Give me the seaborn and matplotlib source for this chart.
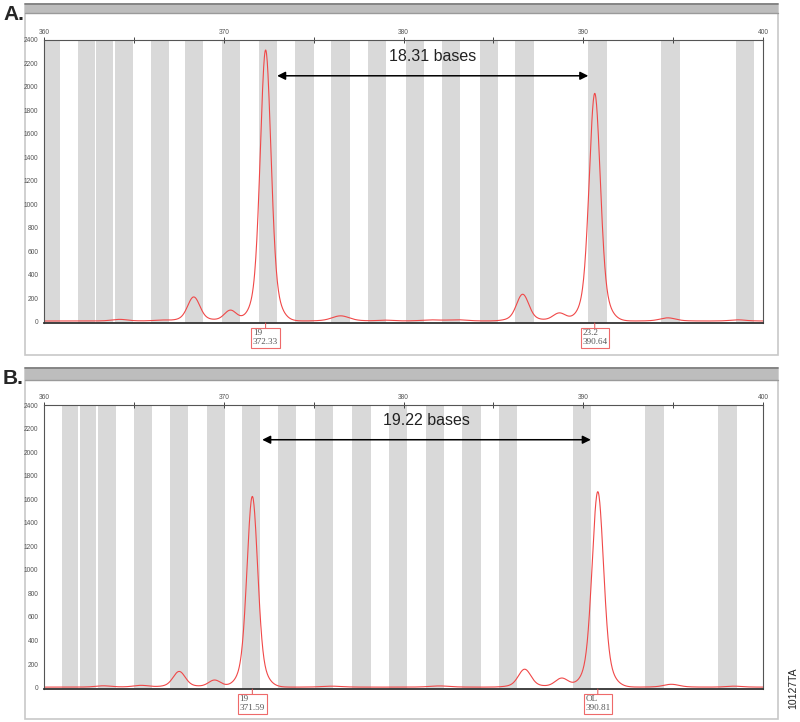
import numpy as np
import pandas as pd
import matplotlib
matplotlib.use("Agg")
import matplotlib.pyplot as plt
from matplotlib.patches import Rectangle
from matplotlib.lines import Line2D
import seaborn as sns

# ---------------- data ----------------
x_range = (360, 400)
y_range = (0, 2400)
x_major_ticks = [360, 370, 380, 390, 400]

# panel A bins (start, end in bases)
bins_a_start = [360.04, 361.87, 362.90, 363.93, 365.93, 367.87, 369.93, 371.97, 373.94,
                375.98, 378.02, 380.12, 382.13, 384.26, 386.22, 390.28, 394.35, 398.48]
bins_a_end = [360.87, 362.82, 363.86, 364.94, 366.97, 368.87, 370.93, 372.98, 375.00,
              377.02, 379.04, 381.12, 383.13, 385.24, 387.24, 391.30, 395.37, 399.48]
# panel B bins
bins_b_start = [360.98, 362.00, 362.99, 364.99, 367.03, 369.07, 371.02, 373.04, 375.10,
                377.16, 379.20, 381.24, 383.27, 385.29, 389.41, 393.44, 397.50]
bins_b_end = [361.90, 362.90, 363.99, 366.01, 368.03, 370.07, 372.02, 374.04, 376.10,
              378.20, 380.20, 382.27, 384.33, 386.29, 390.41, 394.47, 398.53]

# peak tables: position (bases), height (RFU), width (sigma, bases)
peaks_a_pos = [364.2, 366.5, 368.33, 370.37, 372.33, 376.5, 379.0, 381.5, 383.0,
               386.63, 388.67, 390.64, 394.7, 398.6]
peaks_a_height = [14, 8, 205, 92, 2310, 44, 7, 9, 10, 228, 68, 1940, 27, 10]
peaks_a_width = [0.4, 0.4, 0.32, 0.32, 0.28, 0.45, 0.4, 0.5, 0.5, 0.32, 0.34, 0.29, 0.4, 0.4]

peaks_b_pos = [363.3, 365.4, 367.52, 369.49, 371.59, 376.0, 382.0, 386.74, 388.8,
               390.81, 394.9, 398.4]
peaks_b_height = [11, 15, 133, 60, 1620, 8, 10, 152, 76, 1660, 24, 8]
peaks_b_width = [0.4, 0.4, 0.32, 0.32, 0.28, 0.5, 0.5, 0.33, 0.34, 0.30, 0.4, 0.4]

baseline_a = 5
baseline_b = 4

# allele call labels
calls_a_allele = ["19", "23.2"]
calls_a_size = ["372.33", "390.64"]
calls_b_allele = ["19", "OL"]
calls_b_size = ["371.59", "390.81"]

# distance arrows
arrow_a = (372.97, 390.28, 2095)
arrow_b = (372.14, 390.42, 2105)
label_a = "18.31 bases"
label_b = "19.22 bases"


def trace(pos, hgt, wid, base, grid):
    y = np.full_like(grid, float(base))
    for p, h, w in zip(pos, hgt, wid):
        y += h * (0.82 * np.exp(-0.5 * ((grid - p) / w) ** 2)
                  + 0.18 * np.exp(-0.5 * ((grid - p) / (2.0 * w)) ** 2))
    return y


grid = np.linspace(x_range[0], x_range[1], 2001)
df_a = pd.DataFrame({"size": grid,
                     "rfu": trace(peaks_a_pos, peaks_a_height, peaks_a_width, baseline_a, grid)})
df_b = pd.DataFrame({"size": grid,
                     "rfu": trace(peaks_b_pos, peaks_b_height, peaks_b_width, baseline_b, grid)})

# ---------------- figure ----------------
sns.set_style("white")
plt.rcParams["font.family"] = ["Liberation Sans", "DejaVu Sans"]

W, H = 800, 722
fig = plt.figure(figsize=(W / 100, H / 100), dpi=100)


def fx(x):
    return x / W


def fy(y):
    return 1 - y / H


def frame(top, bottom, head_bottom):
    fig.patches.append(Rectangle((fx(25), fy(bottom)), fx(778) - fx(25), fy(top) - fy(bottom),
                                 transform=fig.transFigure, facecolor="white",
                                 edgecolor="#c8c8c8", lw=1.2, zorder=0))
    fig.patches.append(Rectangle((fx(25), fy(head_bottom)), fx(778) - fx(25), fy(top) - fy(head_bottom),
                                 transform=fig.transFigure, facecolor="#bdbdbd",
                                 edgecolor="none", zorder=1))
    for yy, c, lw in [(top, "#7a7a7a", 1.2), (head_bottom, "#9a9a9a", 1.0)]:
        fig.lines.append(Line2D([fx(25), fx(778)], [fy(yy), fy(yy)], transform=fig.transFigure,
                                color=c, lw=lw, zorder=2))


frame(4, 355, 13)
frame(368, 719, 380)


def panel(top, bottom, bins_s, bins_e, df, alleles, sizes, arrow, label, letter, letter_y):
    ax = fig.add_axes([fx(44), fy(bottom), fx(763) - fx(44), fy(top) - fy(bottom)])
    ax.set_zorder(3)
    for s, e in zip(bins_s, bins_e):
        ax.axvspan(s, e, color="#d9d9d9", lw=0, zorder=0)
    sns.lineplot(data=df, x="size", y="rfu", ax=ax, color="#f04848", lw=0.8, zorder=2)
    ax.set_xlim(*x_range)
    ax.set_ylim(y_range[0] - 12, y_range[1])
    ax.set_xlabel("")
    ax.set_ylabel("")
    ax.xaxis.tick_top()
    ax.set_xticks(x_major_ticks)
    ax.set_xticks(np.arange(365, 400, 10), minor=True)
    ax.set_yticks(np.arange(0, 2401, 200))
    ax.set_yticks(np.arange(100, 2400, 200), minor=True)
    ax.tick_params(axis="x", which="both", direction="inout", length=4, width=0.7,
                   color="#444444", labelsize=4.8, labelcolor="#555555", pad=1)
    ax.tick_params(axis="y", which="major", direction="out", length=3, width=0.7,
                   color="#444444", labelsize=4.8, labelcolor="#555555", pad=1)
    ax.tick_params(axis="y", which="minor", direction="out", length=2.5, width=0.7, color="#444444")
    for sp in ["left", "top", "right"]:
        ax.spines[sp].set_color("#555555")
        ax.spines[sp].set_linewidth(0.8)
    ax.spines["bottom"].set_color("#333333")
    ax.spines["bottom"].set_linewidth(1.3)

    # allele call boxes
    for a, s in zip(alleles, sizes):
        pos = float(s)
        ax.annotate("", xy=(pos, 0), xycoords=("data", "axes fraction"),
                    xytext=(0, -4), textcoords="offset points",
                    arrowprops=dict(arrowstyle="-", color="#e05050", lw=0.7, shrinkA=0, shrinkB=0))
        ax.annotate(f"{a}\n{s}", xy=(pos, 0), xycoords=("data", "axes fraction"),
                    xytext=(0, -4.5), textcoords="offset points", ha="center", va="top",
                    multialignment="left", fontsize=6.6, color="#555555",
                    family=["Liberation Serif", "DejaVu Serif"], linespacing=1.15,
                    bbox=dict(boxstyle="square,pad=0.18", fc="white", ec="#ee6a6a", lw=0.8))

    x1, x2, yv = arrow
    ax.annotate("", xy=(x1, yv), xytext=(x2, yv),
                arrowprops=dict(arrowstyle="<|-|>", color="black", lw=1.1,
                                mutation_scale=12, shrinkA=0, shrinkB=0))
    ax.text((x1 + x2) / 2, yv + 100, label, ha="center", va="bottom", fontsize=11.5,
            color="#222222")

    fig.text(fx(3), fy(letter_y), letter, ha="left", va="center", fontsize=15,
             fontweight="bold", family=["Liberation Sans Narrow", "Liberation Sans", "DejaVu Sans"])
    return ax


panel(40, 323, bins_a_start, bins_a_end, df_a, calls_a_allele, calls_a_size,
      arrow_a, label_a, "A.", 14)
panel(405, 689, bins_b_start, bins_b_end, df_b, calls_b_allele, calls_b_size,
      arrow_b, label_b, "B.", 378)

fig.text(fx(793), fy(688), "10127TA", rotation=90, ha="center", va="center", fontsize=7.5,
         family=["Liberation Sans Narrow", "Liberation Sans", "DejaVu Sans"], color="#222222")

fig.savefig("out.png", dpi=100)
